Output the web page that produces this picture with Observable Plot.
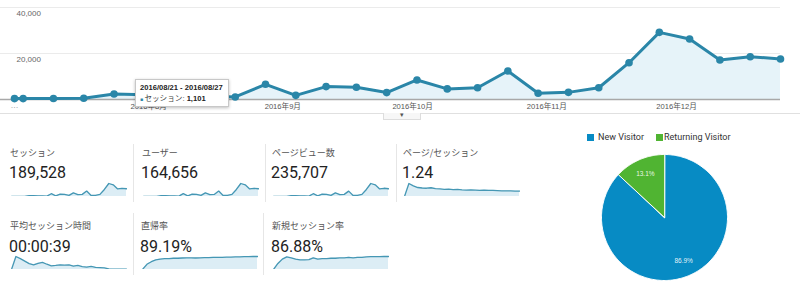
<!DOCTYPE html>
<html><head><meta charset="utf-8">
<script src="https://cdn.jsdelivr.net/npm/d3@7"></script>
<script src="https://cdn.jsdelivr.net/npm/@observablehq/plot@0.6"></script>
<style>
body{margin:0;background:#fff;font-family:Roboto,"Noto Sans CJK JP",sans-serif;}
#root{position:relative;width:800px;height:300px;overflow:hidden;background:#fff;}
.abs{position:absolute;}
.lbl{position:absolute;font-family:"Noto Sans CJK JP",sans-serif;font-size:9px;color:#555;line-height:9px;white-space:nowrap;}
.num{position:absolute;font-family:Roboto,sans-serif;font-size:16px;color:#222;line-height:16px;white-space:nowrap;}
.sep{position:absolute;width:1px;background:#e6e6e6;}
.hline{position:absolute;height:1px;background:#e0e0e0;}
.tip{position:absolute;background:#fff;border:1px solid #c8c8c8;box-shadow:0 1px 3px rgba(0,0,0,.25);font-family:Arial,"Liberation Sans","Noto Sans CJK JP",sans-serif;font-size:7.6px;color:#222;padding:3px 4px;box-sizing:border-box;white-space:nowrap;}
.leg{position:absolute;font-family:Roboto,sans-serif;font-size:9px;color:#333;line-height:9px;white-space:nowrap;}
.sw{position:absolute;width:7px;height:7px;}
</style></head><body><div id="root"></div>
<script>
// ---------- data ----------
const weeks = ["2016-07-01","2016-07-03","2016-07-10","2016-07-17","2016-07-24","2016-07-31",
  "2016-08-07","2016-08-14","2016-08-21","2016-08-28","2016-09-04","2016-09-11","2016-09-18",
  "2016-09-25","2016-10-02","2016-10-09","2016-10-16","2016-10-23","2016-10-30","2016-11-06",
  "2016-11-13","2016-11-20","2016-11-27","2016-12-04","2016-12-11","2016-12-18","2016-12-25"];
const sessions = [400,400,450,550,2400,2100,1900,1500,1101,6600,1800,5600,5300,3000,8500,4600,5100,12400,2700,3100,5100,16000,29200,26300,17200,18600,17600];
const users = [350,350,400,480,2100,1850,1650,1300,960,5800,1550,4900,4600,2600,7400,4000,4400,10800,2350,2700,4400,13900,25400,22800,15000,16200,15300];
const pageviews = [520,500,560,700,2950,2600,2350,1850,1370,8200,2250,6900,6550,3700,10500,5700,6300,15300,3350,3850,6300,19800,36200,32600,21300,23100,21800];
const pagesPerSession = [1.00,1.55,1.45,1.38,1.36,1.35,1.37,1.33,1.32,1.30,1.31,1.29,1.30,1.28,1.27,1.28,1.27,1.26,1.27,1.26,1.26,1.25,1.24,1.24,1.24,1.23,1.23];
const avgDuration = [33,75,68,60,52,48,53,56,50,45,46,48,47,48,44,46,42,41,43,40,39,38,35,34,34,34,34];
const bounceRate = [60,72,78,82,84,85,85,86,86,86.5,87,87,86.5,87,87.5,87.5,88,88,88,88.5,88.5,89,89,89.5,89.5,90,90];
const newSessionRate = [58,72,82,87,85,82,80,80,81,85,82,83,83,84,84,85,85,86,85,86,86,87,87.5,87.5,87.5,88,88];

const yTicks = [20000, 40000];
const yTickLabels = ["20,000", "40,000"];
const monthTicks = ["2016-08-01","2016-09-01","2016-10-01","2016-11-01","2016-12-01"];
const monthLabels = ["2016年8月","2016年9月","2016年10月","2016年11月","2016年12月"];

const metricNames = ["セッション","ユーザー","ページビュー数","ページ/セッション","平均セッション時間","直帰率","新規セッション率"];
const metricValues = ["189,528","164,656","235,707","1.24","00:00:39","89.19%","86.88%"];
const metricSeries = [sessions, users, pageviews, pagesPerSession, avgDuration, bounceRate, newSessionRate];

const visitorTypes = ["New Visitor","Returning Visitor"];
const visitorShare = [86.9, 13.1];
const visitorColors = ["#078bc4","#50b432"];

const tipDate = "2016/08/21 - 2016/08/27";
const tipLabel = "セッション";
const tipValue = "1,101";

// ---------- layout ----------
const root = document.getElementById("root");
function place(el, left, top){ el.style.position="absolute"; el.style.left=left+"px"; el.style.top=top+"px"; root.appendChild(el); return el; }
function div(cls, text){ const d=document.createElement("div"); d.className=cls; if(text!=null) d.textContent=text; return d; }

const lineColor = "#2a86a8";
const mainData = weeks.map((w,i)=>({date:new Date(w), value:sessions[i]}));
const main = Plot.plot({
  width: 800, height: 122,
  marginTop: 7, marginBottom: 23, marginLeft: 0, marginRight: 20,
  x: {type:"utc", domain:[mainData[0].date, mainData[mainData.length-1].date], range:[14,780], axis:null},
  y: {domain:[0,40000], axis:null},
  style: {background:"transparent", fontFamily:"Arial, 'Liberation Sans', 'Noto Sans CJK JP', sans-serif"},
  marks: [
    Plot.ruleY(yTicks, {stroke:"#ebebeb"}),
    Plot.areaY(mainData, {x:"date", y:"value", fill:"#e6f3f9"}),
    Plot.ruleY([0], {stroke:"#a8a8a8", strokeWidth:1.5}),
    Plot.line(mainData, {x:"date", y:"value", stroke:lineColor, strokeWidth:3}),
    Plot.dot(mainData, {x:"date", y:"value", r:3.8, fill:lineColor}),
    Plot.text(yTicks, {y:d=>d, text:(d,i)=>yTickLabels[i], frameAnchor:"left", dx:16, dy:5.5, textAnchor:"middle", fontSize:8, fill:"#666", textAnchor:"start"}),
    Plot.text(monthTicks, {x:d=>new Date(d), text:(d,i)=>monthLabels[i], frameAnchor:"bottom", dy:9, fontSize:7.6, fill:"#555"}),
    Plot.text([weeks[0]], {x:d=>new Date(d), text:()=>"…", frameAnchor:"bottom", dy:8, fontSize:8, fill:"#888"})
  ]
});
place(main, 0, 0);

// separator under main chart + dropdown tab
const hl = div("hline"); hl.style.width="800px"; place(hl, 0, 113);
const tab = div("abs", "▾");
Object.assign(tab.style, {width:"36px", height:"6px", border:"1px solid #ddd", borderTop:"none", background:"#f7f7f7", fontSize:"7px", lineHeight:"5px", textAlign:"center", color:"#555"});
place(tab, 383, 113);

// tooltip
const tip = div("tip");
tip.style.width="94px"; tip.style.height="28px";
const t1 = document.createElement("div"); t1.style.fontWeight="bold"; t1.style.lineHeight="10px"; t1.textContent = tipDate;
const t2 = document.createElement("div"); t2.style.lineHeight="11px";
const sq = document.createElement("span"); sq.textContent="■ "; sq.style.color=lineColor; sq.style.fontSize="5px";
const tl = document.createElement("span"); tl.textContent = tipLabel + ": "; tl.style.color="#444";
const tv = document.createElement("b"); tv.textContent = tipValue;
t2.append(sq, tl, tv);
tip.append(t1, t2);
place(tip, 135, 79);

// ---------- scorecards ----------
const cardLeft = [10,142,272,403, 10,141,272];
const cardRow  = [0,0,0,0, 1,1,1];
const rowLabelTop = [147.5, 220.5];
const rowNumTop = [164.5, 238.5];
const rowSparkTop = [181.5, 254.5];
const sepDefs = [[133,144,58],[265,144,58],[396,144,58],[133,213,62],[263,213,62]];
sepDefs.forEach(([x,y,h])=>{ const s=div("sep"); s.style.height=h+"px"; place(s,x,y); });

function sparkline(values){
  const data = values.map((v,i)=>({i, v}));
  const [lo, hi] = d3.extent(values);
  return Plot.plot({
    width: 116, height: 14, marginTop: 1, marginBottom: 0, marginLeft: 0, marginRight: 1,
    x: {domain:[0, values.length-1], axis:null},
    y: {domain:[lo, hi], axis:null},
    style: {background:"transparent"},
    marks: [
      Plot.areaY(data, {x:"i", y1:()=>lo, y2:"v", fill:"#dcedf5"}),
      Plot.line(data, {x:"i", y:"v", stroke:"#4597b4", strokeWidth:1.3})
    ]
  });
}

metricNames.forEach((name,k)=>{
  const r = cardRow[k], x = cardLeft[k];
  place(div("lbl", name), x, rowLabelTop[r]);
  place(div("num", metricValues[k]), x-1, rowNumTop[r]);
  place(sparkline(metricSeries[k]), x+1, rowSparkTop[r]);
});

// ---------- pie ----------
const arcs = d3.pie().sort(null)(visitorShare);
const pieMarks = arcs.map((a,i)=>{
  const n = Math.max(4, Math.ceil((a.endAngle-a.startAngle)/0.02));
  const pts = [{x:0,y:0}];
  for (let j=0;j<=n;j++){ const t=a.startAngle+(a.endAngle-a.startAngle)*j/n; pts.push({x:Math.sin(t), y:Math.cos(t)}); }
  return Plot.line(pts, {x:"x", y:"y", fill:visitorColors[i], stroke:"#fff", strokeWidth:1, curve:"linear-closed"});
});
const pie = Plot.plot({
  width: 128, height: 128, margin: 1,
  x: {domain:[-1,1], axis:null},
  y: {domain:[-1,1], axis:null},
  style: {background:"transparent", fontFamily:"Arial, 'Liberation Sans', sans-serif"},
  marks: [
    ...pieMarks,
    Plot.text(arcs, {
      x: a=>0.76*Math.sin((a.startAngle+a.endAngle)/2),
      y: a=>0.76*Math.cos((a.startAngle+a.endAngle)/2),
      text: (a,i)=>visitorShare[i].toFixed(1)+"%",
      fill:"#fff", fontSize:6.5, fillOpacity:0.9
    })
  ]
});
place(pie, 600, 153);

// legend
const legX = [[587,598],[656,664]];
visitorTypes.forEach((name,i)=>{
  const s = div("sw"); s.style.background = visitorColors[i]; place(s, legX[i][0], 133.5);
  place(div("leg", name), legX[i][1], 132.5);
});
</script>
</body></html>
